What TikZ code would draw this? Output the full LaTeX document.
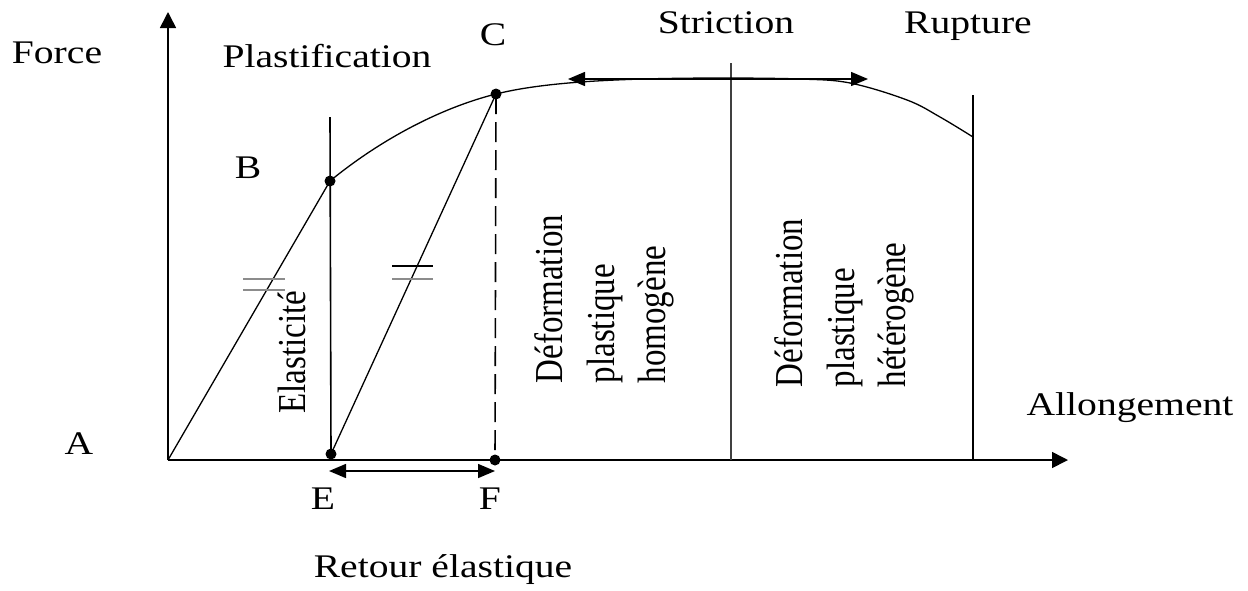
\documentclass[tikz,border=0pt]{standalone}
\usepackage{graphicx}
\usepackage{fontspec}
\setmainfont{Liberation Serif}
\usetikzlibrary{arrows.meta}

% horizontal and vertical stretch of the lettering
\newcommand{\hstr}[1]{\scalebox{1.2}[1]{#1}}
\newcommand{\vstr}[1]{\scalebox{1}[1.2]{#1}}

\begin{document}
\begin{tikzpicture}[x=1pt,y=-1pt,
  lbl/.style={inner sep=0pt, anchor=base, font=\fontsize{33}{43}\selectfont},
  rlbl/.style={inner sep=0pt, rotate=90, font=\fontsize{33}{43}\selectfont},
  dot/.style={circle, fill=black, inner sep=0pt, minimum size=11pt},
  axis/.style={line width=1.6pt, -{Triangle[length=16pt,width=16pt]}},
  graph/.style={line width=1.3pt},
  guide/.style={line width=1.6pt},
  span/.style={line width=1.5pt, {Triangle[length=17pt,width=14pt]}-{Triangle[length=17pt,width=14pt]}},
  tick/.style={line width=2.6pt, draw=black!45}
]
\useasboundingbox (0,0) rectangle (1248,590);

% axes
\coordinate (A) at (168,460);
\coordinate (ytip) at (168,12);
\coordinate (xtip) at (1068,460);
\draw[axis] (A) -- (ytip);
\draw[axis] (A) -- (xtip);

% characteristic points
\node[dot] (B) at (330,181) {};
\node[dot] (C) at (496,94) {};
\node[dot] (E) at (331,454) {};
\node[dot] (F) at (495,460) {};

% elastic lines
\draw[graph] (A) -- (B.center);
\draw[graph] (E.center) -- (C.center);

% guides
\coordinate (Btop) at (330,117);
\draw[guide] (Btop) -- (E.center);
\draw[guide, dash pattern=on 20pt off 8pt] (C.center) -- (F.center);
\coordinate (Stop) at (731,63);
\coordinate (Sbot) at (731,460);
\draw[guide, draw=black!75] (Stop) -- (Sbot);
\coordinate (Rtop) at (973,95);
\coordinate (Rbot) at (973,460);
\draw[guide] (Rtop) -- (Rbot);

% force curve
\coordinate (Rend) at (973,137);
\draw[graph] (B.center) .. controls (380,140) and (440,108) .. (C.center)
  .. controls (552,80) and (640,78) .. (731,78);
\draw[graph] plot[smooth, tension=0.6] coordinates {(731,78) (800,79) (850,83) (907,100) (940,117) (973,137)};

% double arrows
\coordinate (S1) at (568,79);
\coordinate (S2) at (868,79);
\draw[span] (S1) -- (S2);
\coordinate (R1) at (329,471);
\coordinate (R2) at (495,471);
\draw[span] (R1) -- (R2);

% equal-slope marks
\coordinate (m1a) at (243,279); \coordinate (m1b) at (285,279);
\coordinate (m2a) at (243,290); \coordinate (m2b) at (285,290);
\draw[tick] (m1a) -- (m1b);
\draw[tick] (m2a) -- (m2b);
\coordinate (m3a) at (392,266); \coordinate (m3b) at (433,266);
\coordinate (m4a) at (392,279); \coordinate (m4b) at (433,279);
\draw[line width=1.3pt] (m3a) -- (m3b);
\draw[tick] (m4a) -- (m4b);

% labels
\node[lbl] (lForce) at (57,63) {\hstr{Force}};
\node[lbl] (lPlast) at (327,67) {\hstr{Plastification}};
\node[lbl] (lC) at (493,45) {\hstr{C}};
\node[lbl] (lB) at (248,178) {\hstr{B}};
\node[lbl] (lStr) at (726,33) {\hstr{Striction}};
\node[lbl] (lRup) at (968,33) {\hstr{Rupture}};
\node[lbl] (lA) at (79,454) {\hstr{A}};
\node[lbl] (lE) at (323,509) {\hstr{E}};
\node[lbl] (lF) at (490,509) {\hstr{F}};
\node[lbl] (lAll) at (1130,415) {\hstr{Allongement}};
\node[lbl] (lRet) at (443,577) {\hstr{Retour élastique}};

\node[rlbl, anchor=base] (lEla) at (305,352) {\vstr{Elasticité}};
\node[rlbl] (lHom) at (604,299) {\vstr{\begin{tabular}{@{}l@{}}Déformation\\plastique\\homogène\end{tabular}}};
\node[rlbl] (lHet) at (844,303) {\vstr{\begin{tabular}{@{}l@{}}Déformation\\plastique\\hétérogène\end{tabular}}};
\end{tikzpicture}
\end{document}
